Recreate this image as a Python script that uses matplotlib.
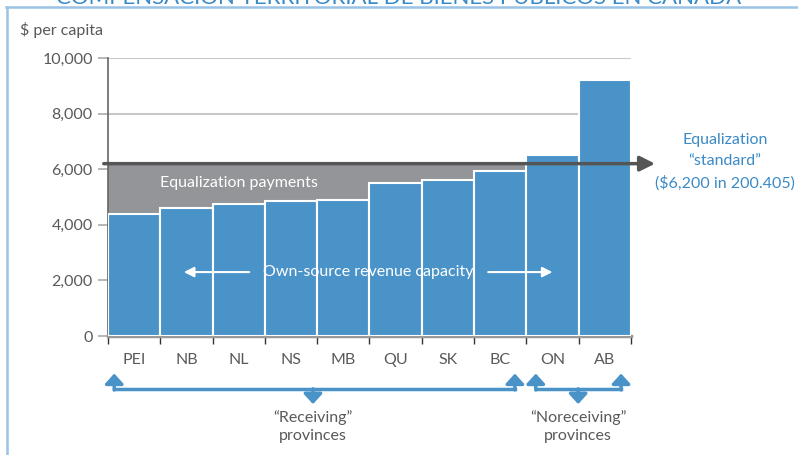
import matplotlib.pyplot as plt
import matplotlib.transforms as mtransforms
from matplotlib.lines import Line2D

provinces = ['PEI', 'NB', 'NL', 'NS', 'MB', 'QU', 'SK', 'BC', 'ON', 'AB']
capacity = [4400, 4600, 4750, 4850, 4900, 5500, 5600, 5950, 6500, 9200]
receiving = ['PEI', 'NB', 'NL', 'NS', 'MB', 'QU', 'SK', 'BC']
standard = 6200
yticks = [0, 2000, 4000, 6000, 8000, 10000]

blue = '#4a93c9'
gray_fill = '#939598'
dark = '#58595b'
text_blue = '#3a8ac6'

plt.rcParams['font.family'] = ['Lato', 'DejaVu Sans']

fig = plt.figure(figsize=(7.98, 4.55), dpi=100)
ax = fig.add_axes([0.1353, 0.2615, 0.6554, 0.611])

x = list(range(len(provinces)))

# gray band = equalization payments up to the standard
for i, p in enumerate(provinces):
    if p in receiving:
        ax.bar(i, standard - capacity[i], bottom=capacity[i], width=1.0,
               color=gray_fill, linewidth=0, zorder=2)

ax.bar(x, capacity, width=1.0, color=blue, edgecolor='white', linewidth=1.5, zorder=3)

ax.set_xlim(-0.5, 9.5)
ax.set_ylim(0, 10000)
ax.set_yticks(yticks)
ax.set_yticklabels([f'{v:,}' for v in yticks], color=dark, fontsize=11.5)
ax.yaxis.grid(True, color='#c8c8c8', linewidth=1.5, zorder=0)
ax.set_axisbelow(True)

ax.set_xticks([i - 0.5 for i in range(len(provinces) + 1)])
ax.set_xticklabels([])
ax.set_xticks(x, minor=True)
ax.set_xticklabels(provinces, minor=True, color=dark, fontsize=11.5)
ax.tick_params(axis='x', which='major', length=6, color='#333333', width=1)
ax.tick_params(axis='x', which='minor', length=0, pad=12)
ax.tick_params(axis='y', length=7, color='#aaaaaa', width=1.2, pad=4)

for s in ['top', 'right']:
    ax.spines[s].set_visible(False)
ax.spines['left'].set_color('#666666')
ax.spines['left'].set_linewidth(1.2)
ax.spines['bottom'].set_color('#999999')
ax.spines['bottom'].set_linewidth(2.5)

# standard line with arrow
ax.annotate('', xy=(9.96, standard), xytext=(-0.58, standard),
            arrowprops=dict(arrowstyle='-|>,head_length=0.9,head_width=0.45',
                            color='#555555', lw=2.5, shrinkA=0, shrinkB=0),
            annotation_clip=False, zorder=5)

ax.text(11.3, standard + 60, 'Equalization\n\u201cstandard\u201d\n($6,200 in 200.405)',
        ha='center', va='center', color=text_blue, fontsize=11.5, linespacing=1.65,
        clip_on=False)

ax.text(2.0, 5500, 'Equalization payments', color='white', fontsize=11.5,
        ha='center', va='center', zorder=6)

ax.text(4.47, 2300, 'Own-source revenue capacity', color='white', fontsize=11.5,
        ha='center', va='center', zorder=6)
ax.annotate('', xy=(0.95, 2300), xytext=(2.2, 2300),
            arrowprops=dict(arrowstyle='-|>,head_length=0.6,head_width=0.3',
                            color='white', lw=1.5, shrinkA=0, shrinkB=0), zorder=6)
ax.annotate('', xy=(8.0, 2300), xytext=(6.77, 2300),
            arrowprops=dict(arrowstyle='-|>,head_length=0.6,head_width=0.3',
                            color='white', lw=1.5, shrinkA=0, shrinkB=0), zorder=6)

fig.text(20 / 798, 1 - 30 / 455, '$ per capita', color=dark, fontsize=11.5,
         ha='left', va='center')

# brackets below the axis
tr = mtransforms.blended_transform_factory(ax.transData, ax.transAxes)
brk_y = -0.19
arrow_kw = dict(arrowstyle='-|>,head_length=0.6,head_width=0.55',
                color=blue, lw=2.5, shrinkA=0, shrinkB=0)


def bracket(x0, x1, xm, label):
    ax.plot([x0, x1], [brk_y, brk_y], color=blue, lw=2.5, transform=tr, clip_on=False)
    for xe in (x0, x1):
        ax.annotate('', xy=(xe, brk_y + 0.055), xytext=(xe, brk_y - 0.004), xycoords=tr,
                    textcoords=tr, arrowprops=arrow_kw, annotation_clip=False)
    ax.annotate('', xy=(xm, brk_y - 0.055), xytext=(xm, brk_y), xycoords=tr,
                textcoords=tr, arrowprops=arrow_kw, annotation_clip=False)
    ax.text(xm, -0.325, label, transform=tr, ha='center', va='center',
            color=dark, fontsize=11.5, linespacing=1.4)


bracket(-0.38, 7.28, 3.42, '\u201cReceiving\u201d\nprovinces')
bracket(7.68, 9.31, 8.49, '\u201cNoreceiving\u201d\nprovinces')

# cut-off title and frame
fig.text(0.5, 1 - 4 / 455, 'COMPENSACI\u00d3N TERRITORIAL DE BIENES P\u00daBLICOS EN CANAD\u00c1',
         ha='center', va='baseline', color=text_blue, fontsize=16)
fig.add_artist(Line2D([6 / 798, 1], [1 - 6.5 / 455, 1 - 6.5 / 455],
                      transform=fig.transFigure, color='#9cc3e6', lw=1.8))
fig.add_artist(Line2D([7 / 798, 7 / 798], [0, 1 - 6.5 / 455],
                      transform=fig.transFigure, color='#9cc3e6', lw=1.8))

fig.savefig('out.png', dpi=100)
